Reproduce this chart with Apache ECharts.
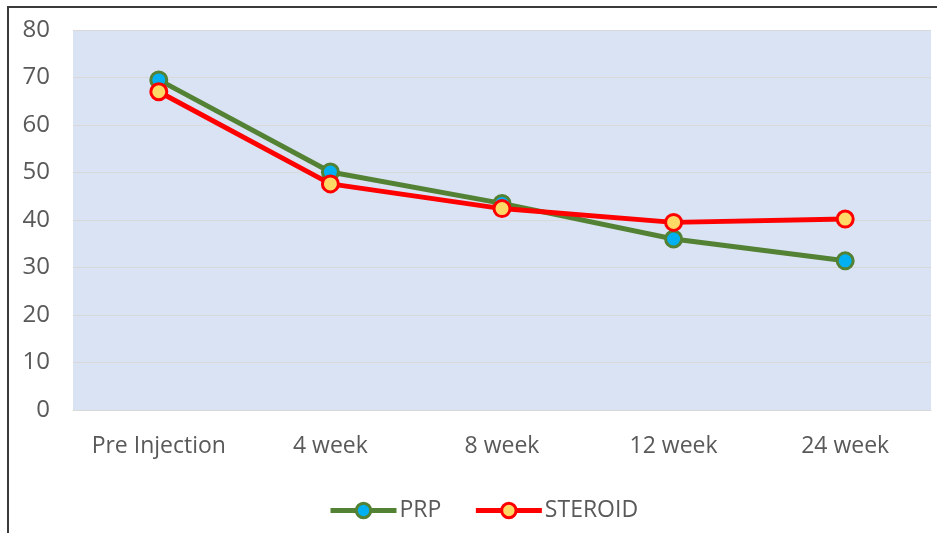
<!DOCTYPE html>
<html>
<head>
<meta charset="utf-8">
<script src="https://cdn.jsdelivr.net/npm/echarts@6/dist/echarts.min.js"></script>
<style>
    html, body {
        margin: 0;
        padding: 0;
        background: #ffffff;
    }

    #chart {
        position: absolute;
        left: 0;
        top: 0;
        width: 937px;
        height: 533px;
    }

    .frame {
        position: absolute;
        left: 7px;
        top: 6px;
        width: 960px;
        height: 560px;
        border: 2px solid #3a3a3a;
        pointer-events: none;
    }
</style>
</head>
<body>
<div id="chart"></div>
<div class="frame"></div>
<script>
    // 数据
    const categories = ['Pre Injection', '4 week', '8 week', '12 week', '24 week'];
    const prpValues = [69.5, 50.1, 43.5, 36.0, 31.4];
    const steroidValues = [67.0, 47.6, 42.4, 39.5, 40.2];
    const yTicks = [0, 10, 20, 30, 40, 50, 60, 70, 80];

    let chart = echarts.init(document.getElementById('chart'));

    chart.setOption({
        textStyle: {
            fontFamily: 'Open Sans'
        },
        grid: {
            left: 73,
            right: 6,
            top: 30,
            bottom: 123,
            show: true,
            backgroundColor: '#dae3f3',
            borderWidth: 0
        },
        legend: {
            bottom: 6,
            left: 323,
            itemWidth: 66,
            itemHeight: 18,
            itemGap: 32,
            lineStyle: { width: 5 },
            itemStyle: { borderWidth: 3 },
            textStyle: {
                fontSize: 23,
                color: '#595959',
                fontFamily: 'Open Sans',
                padding: [0, 0, 0, -2]
            },
            data: ['PRP', 'STEROID']
        },
        xAxis: {
            type: 'category',
            data: categories,
            axisLine: {
                show: true,
                lineStyle: { color: '#d9d9d9', width: 1 }
            },
            axisTick: { show: false },
            axisLabel: {
                interval: 0,
                fontSize: 23,
                color: '#595959',
                margin: 25
            }
        },
        yAxis: {
            type: 'value',
            min: yTicks[0],
            max: yTicks[yTicks.length - 1],
            interval: 10,
            axisLine: { show: false },
            axisTick: { show: false },
            splitLine: {
                lineStyle: { color: '#d9d9d9', width: 1 }
            },
            axisLabel: {
                fontSize: 24,
                color: '#595959',
                margin: 23
            }
        },
        series: [
            {
                name: 'PRP',
                type: 'line',
                data: prpValues,
                symbol: 'circle',
                symbolSize: 16,
                lineStyle: { color: '#548235', width: 5 },
                itemStyle: {
                    color: '#00b0f0',
                    borderColor: '#548235',
                    borderWidth: 3
                },
                z: 2
            },
            {
                name: 'STEROID',
                type: 'line',
                data: steroidValues,
                symbol: 'circle',
                symbolSize: 16,
                lineStyle: { color: '#ff0000', width: 5 },
                itemStyle: {
                    color: '#ffd966',
                    borderColor: '#ff0000',
                    borderWidth: 3
                },
                z: 3
            }
        ]
    });
</script>
</body>
</html>
